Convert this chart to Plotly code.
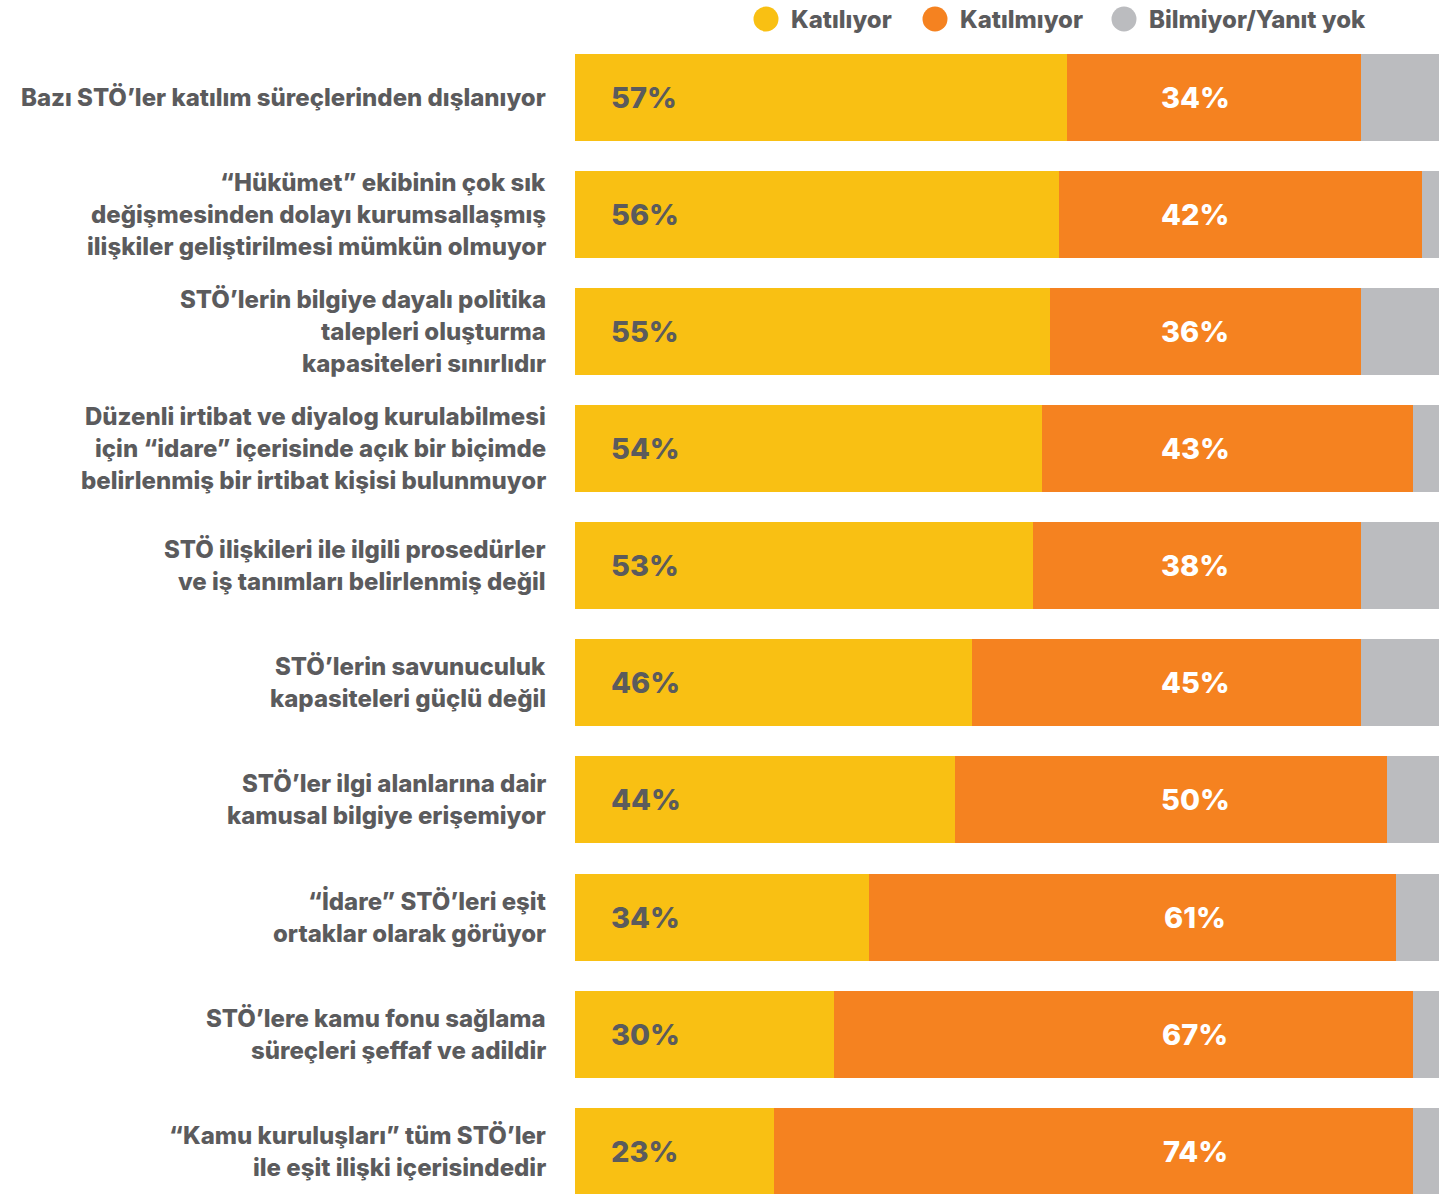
import plotly.graph_objects as go

# Survey statements (top to bottom) and response shares in percent
statements = [
    "Bazı STÖ’ler katılım süreçlerinden dışlanıyor",
    "“Hükümet” ekibinin çok sık<br>değişmesinden dolayı kurumsallaşmış<br>ilişkiler geliştirilmesi mümkün olmuyor",
    "STÖ’lerin bilgiye dayalı politika<br>talepleri oluşturma<br>kapasiteleri sınırlıdır",
    "Düzenli irtibat ve diyalog kurulabilmesi<br>için “idare” içerisinde açık bir biçimde<br>belirlenmiş bir irtibat kişisi bulunmuyor",
    "STÖ ilişkileri ile ilgili prosedürler<br>ve iş tanımları belirlenmiş değil",
    "STÖ’lerin savunuculuk<br>kapasiteleri güçlü değil",
    "STÖ’ler ilgi alanlarına dair<br>kamusal bilgiye erişemiyor",
    "“İdare” STÖ’leri eşit<br>ortaklar olarak görüyor",
    "STÖ’lere kamu fonu sağlama<br>süreçleri şeffaf ve adildir",
    "“Kamu kuruluşları” tüm STÖ’ler<br>ile eşit ilişki içerisindedir",
]
agree = [57, 56, 55, 54, 53, 46, 44, 34, 30, 23]
disagree = [34, 42, 36, 43, 38, 45, 50, 61, 67, 74]
unknown = [100 - a - d for a, d in zip(agree, disagree)]

series_names = ["Katılıyor", "Katılmıyor", "Bilmiyor/Yanıt yok"]
colors = ["#F9C013", "#F58220", "#BBBCBF"]
text_gray = "#5B5B5D"
font_family = "Inter, Lato, sans-serif"
heavy = 800

rows = list(range(len(statements)))

fig = go.Figure()
for name, vals, col in zip(series_names, [agree, disagree, unknown], colors):
    fig.add_trace(go.Bar(
        y=rows, x=vals, name=name, orientation="h",
        marker=dict(color=col, line=dict(width=0)),
        width=0.743, showlegend=False, hoverinfo="x+name",
    ))

annotations = []
# Value labels inside the segments
for i, (a, d) in enumerate(zip(agree, disagree)):
    annotations.append(dict(
        x=3.9, y=i, xref="x", yref="y", text=f"{a}%", showarrow=False,
        xanchor="left", yanchor="middle",
        font=dict(family=font_family, size=29, color=text_gray, weight=heavy),
    ))
    annotations.append(dict(
        x=71.8, y=i, xref="x", yref="y", text=f"{d}%", showarrow=False,
        xanchor="center", yanchor="middle",
        font=dict(family=font_family, size=29, color="white", weight=heavy),
    ))

# Right-aligned statement labels, one annotation per line for even spacing
line_gap = 32
for i, s in enumerate(statements):
    lines = s.split("<br>")
    n = len(lines)
    for k, ln in enumerate(lines):
        annotations.append(dict(
            x=-0.0313, y=i, xref="paper", yref="y", text=ln,
            showarrow=False, xanchor="right", yanchor="middle",
            yshift=((n - 1) / 2 - k) * line_gap,
            font=dict(family=font_family, size=24, color=text_gray, weight=heavy),
        ))

# Legend drawn as circles with labels above the bars
shapes = []
legend_x = [766, 935, 1124]
plot_left, plot_width = 575, 864
legend_y_px = 19
for name, col, cx in zip(series_names, colors, legend_x):
    xp = (cx - plot_left) / plot_width
    shapes.append(dict(
        type="circle", xref="paper", yref="paper",
        xsizemode="pixel", ysizemode="pixel",
        xanchor=xp, yanchor=1, x0=-12.5, x1=12.5,
        y0=(39 - legend_y_px) - 12.5, y1=(39 - legend_y_px) + 12.5,
        fillcolor=col, line=dict(width=0),
    ))
    annotations.append(dict(
        x=xp, y=1, xref="paper", yref="paper", text=name,
        showarrow=False, xanchor="left", yanchor="middle",
        xshift=23, yshift=39 - legend_y_px,
        font=dict(family=font_family, size=24, color=text_gray, weight=heavy),
    ))

fig.update_layout(
    barmode="stack",
    width=1439, height=1194,
    margin=dict(l=575, r=0, t=39, b=0, pad=0),
    paper_bgcolor="white", plot_bgcolor="white",
    xaxis=dict(range=[0, 100], visible=False, fixedrange=True),
    yaxis=dict(range=[9.366, -0.5], visible=False, fixedrange=True),
    annotations=annotations, shapes=shapes,
    showlegend=False,
)

fig.write_html("out.html")
